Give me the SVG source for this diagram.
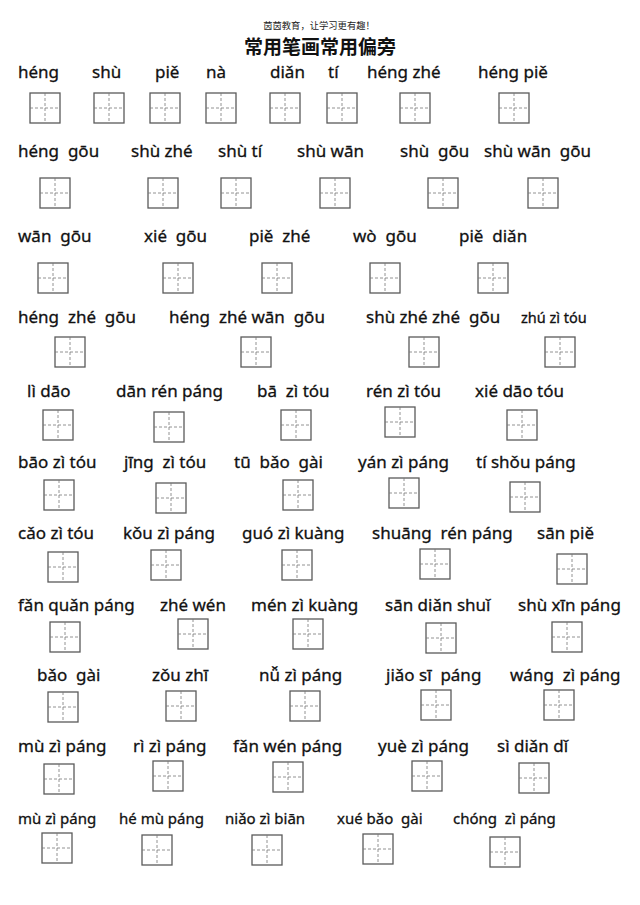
<svg xmlns="http://www.w3.org/2000/svg" xmlns:xlink="http://www.w3.org/1999/xlink" width="640" height="905" viewBox="0 0 640 905">
<style>
.hd{font-family:"Noto Sans CJK SC","Noto Sans",sans-serif;font-size:9.3px;fill:#222;text-anchor:middle}
.tt{font-family:"Noto Sans CJK SC","Noto Sans",sans-serif;font-size:19px;font-weight:bold;fill:#111;text-anchor:middle}
.py{font-family:"Noto Sans","DejaVu Sans",sans-serif;font-size:17px;fill:#111;stroke:#111;stroke-width:0.3;white-space:pre}
.sm{font-size:14.5px}
.s15{font-size:15px}
.bx{fill:#fff;stroke:#5a5a5a;stroke-width:1.3}
.ds{stroke:#777;stroke-width:0.8;stroke-dasharray:3 2;fill:none}
</style>
<defs>
<g id="box">
<rect class="bx" x="0" y="0" width="30" height="30"/>
<path class="ds" d="M15 0V30M0 15H30"/>
</g>
</defs>
<rect width="640" height="905" fill="#fff"/>
<text class="hd" x="319" y="29">茵茵教育，让学习更有趣！</text>
<text class="tt" x="320" y="54">常用笔画常用偏旁</text>

<g id="row1">
<g id="n1-1"><text class="py" x="18" y="78">héng</text><use href="#box" x="30" y="93"/></g>
<g id="n1-2"><text class="py" x="92" y="78">shù</text><use href="#box" x="94" y="93"/></g>
<g id="n1-3"><text class="py" x="155" y="78">piě</text><use href="#box" x="150" y="93"/></g>
<g id="n1-4"><text class="py" x="206" y="78">nà</text><use href="#box" x="206" y="93"/></g>
<g id="n1-5"><text class="py" x="270" y="78">diǎn</text><use href="#box" x="270" y="93"/></g>
<g id="n1-6"><text class="py" x="328" y="78">tí</text><use href="#box" x="327" y="93"/></g>
<g id="n1-7"><text class="py" x="367" y="78">héng zhé</text><use href="#box" x="400" y="93"/></g>
<g id="n1-8"><text class="py" x="478" y="78">héng piě</text><use href="#box" x="499" y="93"/></g>
</g>

<g id="row2">
<g id="n2-1"><text class="py" x="18" y="157">héng  gōu</text><use href="#box" x="40" y="178"/></g>
<g id="n2-2"><text class="py" x="131" y="157">shù zhé</text><use href="#box" x="148" y="178"/></g>
<g id="n2-3"><text class="py" x="218" y="157">shù tí</text><use href="#box" x="221" y="178"/></g>
<g id="n2-4"><text class="py" x="297" y="157">shù wān</text><use href="#box" x="320" y="178"/></g>
<g id="n2-5"><text class="py" x="400" y="157">shù  gōu</text><use href="#box" x="428" y="178"/></g>
<g id="n2-6"><text class="py" x="484" y="157">shù wān  gōu</text><use href="#box" x="528" y="178"/></g>
</g>

<g id="row3">
<g id="n3-1"><text class="py" x="18" y="242">wān  gōu</text><use href="#box" x="38" y="263"/></g>
<g id="n3-2"><text class="py" x="144" y="242">xié  gōu</text><use href="#box" x="163" y="263"/></g>
<g id="n3-3"><text class="py" x="249" y="242">piě  zhé</text><use href="#box" x="262" y="263"/></g>
<g id="n3-4"><text class="py" x="353" y="242">wò  gōu</text><use href="#box" x="370" y="263"/></g>
<g id="n3-5"><text class="py" x="459" y="242">piě  diǎn</text><use href="#box" x="478" y="263"/></g>
</g>

<g id="row4">
<g id="n4-1"><text class="py" x="18" y="323">héng  zhé  gōu</text><use href="#box" x="55" y="337"/></g>
<g id="n4-2"><text class="py" x="169" y="323">héng  zhé wān  gōu</text><use href="#box" x="241" y="337"/></g>
<g id="n4-3"><text class="py" x="366" y="323">shù zhé zhé  gōu</text><use href="#box" x="409" y="337"/></g>
<g id="n4-4"><text class="py sm" x="521" y="323">zhú zì tóu</text><use href="#box" x="545" y="337"/></g>
</g>

<g id="row5">
<g id="n5-1"><text class="py" x="27" y="397">lì dāo</text><use href="#box" x="43" y="410"/></g>
<g id="n5-2"><text class="py" x="116" y="397">dān rén páng</text><use href="#box" x="154" y="412"/></g>
<g id="n5-3"><text class="py" x="257" y="397">bā  zì tóu</text><use href="#box" x="281" y="410"/></g>
<g id="n5-4"><text class="py" x="366" y="397">rén zì tóu</text><use href="#box" x="385" y="407"/></g>
<g id="n5-5"><text class="py" x="475" y="397">xié dāo tóu</text><use href="#box" x="507" y="410"/></g>
</g>

<g id="row6">
<g id="n6-1"><text class="py" x="18" y="468">bāo zì tóu</text><use href="#box" x="44" y="480"/></g>
<g id="n6-2"><text class="py" x="124" y="468">jīng  zì tóu</text><use href="#box" x="156" y="483"/></g>
<g id="n6-3"><text class="py" x="234" y="468">tū  bǎo  gài</text><use href="#box" x="283" y="480"/></g>
<g id="n6-4"><text class="py" x="358" y="468">yán zì páng</text><use href="#box" x="389" y="478"/></g>
<g id="n6-5"><text class="py" x="476" y="468">tí shǒu páng</text><use href="#box" x="510" y="482"/></g>
</g>

<g id="row7">
<g id="n7-1"><text class="py" x="18" y="539">cǎo zì tóu</text><use href="#box" x="48" y="552"/></g>
<g id="n7-2"><text class="py" x="123" y="539">kǒu zì páng</text><use href="#box" x="151" y="550"/></g>
<g id="n7-3"><text class="py" x="242" y="539">guó zì kuàng</text><use href="#box" x="282" y="550"/></g>
<g id="n7-4"><text class="py" x="372" y="539">shuāng  rén páng</text><use href="#box" x="420" y="549"/></g>
<g id="n7-5"><text class="py" x="537" y="539">sān piě</text><use href="#box" x="557" y="554"/></g>
</g>

<g id="row8">
<g id="n8-1"><text class="py" x="18" y="611">fǎn quǎn páng</text><use href="#box" x="50" y="622"/></g>
<g id="n8-2"><text class="py" x="160" y="611">zhé wén</text><use href="#box" x="178" y="619"/></g>
<g id="n8-3"><text class="py" x="251" y="611">mén zì kuàng</text><use href="#box" x="293" y="619"/></g>
<g id="n8-4"><text class="py" x="385" y="611">sān diǎn shuǐ</text><use href="#box" x="426" y="623"/></g>
<g id="n8-5"><text class="py" x="518" y="611">shù xīn páng</text><use href="#box" x="552" y="622"/></g>
</g>

<g id="row9">
<g id="n9-1"><text class="py" x="37" y="681">bǎo  gài</text><use href="#box" x="48" y="692"/></g>
<g id="n9-2"><text class="py" x="152" y="681">zǒu zhī</text><use href="#box" x="166" y="691"/></g>
<g id="n9-3"><text class="py" x="259" y="681">nǚ zì páng</text><use href="#box" x="290" y="691"/></g>
<g id="n9-4"><text class="py" x="386" y="681">jiǎo sī  páng</text><use href="#box" x="421" y="690"/></g>
<g id="n9-5"><text class="py" x="510" y="681">wáng  zì páng</text><use href="#box" x="544" y="690"/></g>
</g>

<g id="row10">
<g id="n10-1"><text class="py" x="18" y="752">mù zì páng</text><use href="#box" x="44" y="764"/></g>
<g id="n10-2"><text class="py" x="133" y="752">rì zì páng</text><use href="#box" x="153" y="761"/></g>
<g id="n10-3"><text class="py" x="233" y="752">fǎn wén páng</text><use href="#box" x="273" y="762"/></g>
<g id="n10-4"><text class="py" x="378" y="752">yuè zì páng</text><use href="#box" x="412" y="761"/></g>
<g id="n10-5"><text class="py" x="497" y="752">sì diǎn dǐ</text><use href="#box" x="519" y="763"/></g>
</g>

<g id="row11">
<g id="n11-1"><text class="py s15" x="18" y="824">mù zì páng</text><use href="#box" x="42" y="833"/></g>
<g id="n11-2"><text class="py s15" x="119" y="824">hé mù páng</text><use href="#box" x="142" y="835"/></g>
<g id="n11-3"><text class="py s15" x="225" y="824">niǎo zì biān</text><use href="#box" x="252" y="835"/></g>
<g id="n11-4"><text class="py s15" x="337" y="824">xué bǎo  gài</text><use href="#box" x="363" y="834"/></g>
<g id="n11-5"><text class="py s15" x="453" y="824">chóng  zì páng</text><use href="#box" x="490" y="837"/></g>
</g>

<g id="connectors"></g>
</svg>
